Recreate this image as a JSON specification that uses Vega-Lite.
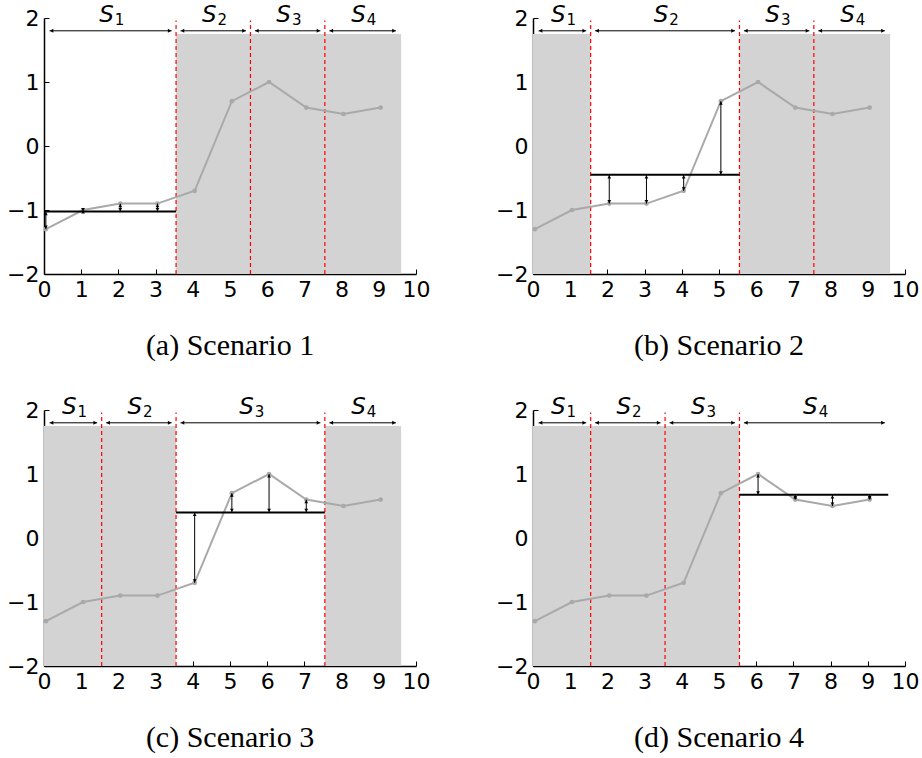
{
  "$schema": "https://vega.github.io/schema/vega-lite/v6.json",
  "padding": {"left": 6, "top": 4, "right": 5, "bottom": 0},
  "data": {"values": [
    {"cap":"(a) Scenario 1","t":"pt","x":0.05,"y":-1.3},
    {"cap":"(a) Scenario 1","t":"pt","x":1.05,"y":-1.0},
    {"cap":"(a) Scenario 1","t":"pt","x":2.05,"y":-0.9},
    {"cap":"(a) Scenario 1","t":"pt","x":3.05,"y":-0.9},
    {"cap":"(a) Scenario 1","t":"pt","x":4.05,"y":-0.7},
    {"cap":"(a) Scenario 1","t":"pt","x":5.05,"y":0.7},
    {"cap":"(a) Scenario 1","t":"pt","x":6.05,"y":1.0},
    {"cap":"(a) Scenario 1","t":"pt","x":7.05,"y":0.6},
    {"cap":"(a) Scenario 1","t":"pt","x":8.05,"y":0.5},
    {"cap":"(a) Scenario 1","t":"pt","x":9.05,"y":0.6},
    {"cap":"(b) Scenario 2","t":"pt","x":0.05,"y":-1.3},
    {"cap":"(b) Scenario 2","t":"pt","x":1.05,"y":-1.0},
    {"cap":"(b) Scenario 2","t":"pt","x":2.05,"y":-0.9},
    {"cap":"(b) Scenario 2","t":"pt","x":3.05,"y":-0.9},
    {"cap":"(b) Scenario 2","t":"pt","x":4.05,"y":-0.7},
    {"cap":"(b) Scenario 2","t":"pt","x":5.05,"y":0.7},
    {"cap":"(b) Scenario 2","t":"pt","x":6.05,"y":1.0},
    {"cap":"(b) Scenario 2","t":"pt","x":7.05,"y":0.6},
    {"cap":"(b) Scenario 2","t":"pt","x":8.05,"y":0.5},
    {"cap":"(b) Scenario 2","t":"pt","x":9.05,"y":0.6},
    {"cap":"(c) Scenario 3","t":"pt","x":0.05,"y":-1.3},
    {"cap":"(c) Scenario 3","t":"pt","x":1.05,"y":-1.0},
    {"cap":"(c) Scenario 3","t":"pt","x":2.05,"y":-0.9},
    {"cap":"(c) Scenario 3","t":"pt","x":3.05,"y":-0.9},
    {"cap":"(c) Scenario 3","t":"pt","x":4.05,"y":-0.7},
    {"cap":"(c) Scenario 3","t":"pt","x":5.05,"y":0.7},
    {"cap":"(c) Scenario 3","t":"pt","x":6.05,"y":1.0},
    {"cap":"(c) Scenario 3","t":"pt","x":7.05,"y":0.6},
    {"cap":"(c) Scenario 3","t":"pt","x":8.05,"y":0.5},
    {"cap":"(c) Scenario 3","t":"pt","x":9.05,"y":0.6},
    {"cap":"(d) Scenario 4","t":"pt","x":0.05,"y":-1.3},
    {"cap":"(d) Scenario 4","t":"pt","x":1.05,"y":-1.0},
    {"cap":"(d) Scenario 4","t":"pt","x":2.05,"y":-0.9},
    {"cap":"(d) Scenario 4","t":"pt","x":3.05,"y":-0.9},
    {"cap":"(d) Scenario 4","t":"pt","x":4.05,"y":-0.7},
    {"cap":"(d) Scenario 4","t":"pt","x":5.05,"y":0.7},
    {"cap":"(d) Scenario 4","t":"pt","x":6.05,"y":1.0},
    {"cap":"(d) Scenario 4","t":"pt","x":7.05,"y":0.6},
    {"cap":"(d) Scenario 4","t":"pt","x":8.05,"y":0.5},
    {"cap":"(d) Scenario 4","t":"pt","x":9.05,"y":0.6},

    {"cap":"(a) Scenario 1","t":"sh","x0":3.55,"x1":9.6},
    {"cap":"(b) Scenario 2","t":"sh","x0":0,"x1":1.55},
    {"cap":"(b) Scenario 2","t":"sh","x0":5.55,"x1":9.6},
    {"cap":"(c) Scenario 3","t":"sh","x0":0,"x1":3.55},
    {"cap":"(c) Scenario 3","t":"sh","x0":7.55,"x1":9.6},
    {"cap":"(d) Scenario 4","t":"sh","x0":0,"x1":5.55},

    {"cap":"(a) Scenario 1","t":"bd","x":3.55},
    {"cap":"(a) Scenario 1","t":"bd","x":5.55},
    {"cap":"(a) Scenario 1","t":"bd","x":7.55},
    {"cap":"(b) Scenario 2","t":"bd","x":1.55},
    {"cap":"(b) Scenario 2","t":"bd","x":5.55},
    {"cap":"(b) Scenario 2","t":"bd","x":7.55},
    {"cap":"(c) Scenario 3","t":"bd","x":1.55},
    {"cap":"(c) Scenario 3","t":"bd","x":3.55},
    {"cap":"(c) Scenario 3","t":"bd","x":7.55},
    {"cap":"(d) Scenario 4","t":"bd","x":1.55},
    {"cap":"(d) Scenario 4","t":"bd","x":3.55},
    {"cap":"(d) Scenario 4","t":"bd","x":5.55},

    {"cap":"(a) Scenario 1","t":"sp","x0":0.15,"x1":3.43,"mid":1.79,"lab":"1"},
    {"cap":"(a) Scenario 1","t":"sp","x0":3.67,"x1":5.43,"mid":4.55,"lab":"2"},
    {"cap":"(a) Scenario 1","t":"sp","x0":5.67,"x1":7.43,"mid":6.55,"lab":"3"},
    {"cap":"(a) Scenario 1","t":"sp","x0":7.67,"x1":9.46,"mid":8.565,"lab":"4"},
    {"cap":"(b) Scenario 2","t":"sp","x0":0.15,"x1":1.43,"mid":0.79,"lab":"1"},
    {"cap":"(b) Scenario 2","t":"sp","x0":1.67,"x1":5.43,"mid":3.55,"lab":"2"},
    {"cap":"(b) Scenario 2","t":"sp","x0":5.67,"x1":7.43,"mid":6.55,"lab":"3"},
    {"cap":"(b) Scenario 2","t":"sp","x0":7.67,"x1":9.46,"mid":8.565,"lab":"4"},
    {"cap":"(c) Scenario 3","t":"sp","x0":0.15,"x1":1.43,"mid":0.79,"lab":"1"},
    {"cap":"(c) Scenario 3","t":"sp","x0":1.67,"x1":3.43,"mid":2.55,"lab":"2"},
    {"cap":"(c) Scenario 3","t":"sp","x0":3.67,"x1":7.43,"mid":5.55,"lab":"3"},
    {"cap":"(c) Scenario 3","t":"sp","x0":7.67,"x1":9.46,"mid":8.565,"lab":"4"},
    {"cap":"(d) Scenario 4","t":"sp","x0":0.15,"x1":1.43,"mid":0.79,"lab":"1"},
    {"cap":"(d) Scenario 4","t":"sp","x0":1.67,"x1":3.43,"mid":2.55,"lab":"2"},
    {"cap":"(d) Scenario 4","t":"sp","x0":3.67,"x1":5.43,"mid":4.55,"lab":"3"},
    {"cap":"(d) Scenario 4","t":"sp","x0":5.67,"x1":9.46,"mid":7.565,"lab":"4"},

    {"cap":"(a) Scenario 1","t":"mn","x0":0,"x1":3.55,"y":-1.025},
    {"cap":"(b) Scenario 2","t":"mn","x0":1.55,"x1":5.55,"y":-0.45},
    {"cap":"(c) Scenario 3","t":"mn","x0":3.55,"x1":7.55,"y":0.4},
    {"cap":"(d) Scenario 4","t":"mn","x0":5.55,"x1":9.55,"y":0.675},

    {"cap":"(a) Scenario 1","t":"er","x":0.05,"lo":-1.3,"hi":-1.025},
    {"cap":"(a) Scenario 1","t":"er","x":1.05,"lo":-1.025,"hi":-1.0},
    {"cap":"(a) Scenario 1","t":"er","x":2.05,"lo":-1.025,"hi":-0.9},
    {"cap":"(a) Scenario 1","t":"er","x":3.05,"lo":-1.025,"hi":-0.9},
    {"cap":"(b) Scenario 2","t":"er","x":2.05,"lo":-0.9,"hi":-0.45},
    {"cap":"(b) Scenario 2","t":"er","x":3.05,"lo":-0.9,"hi":-0.45},
    {"cap":"(b) Scenario 2","t":"er","x":4.05,"lo":-0.7,"hi":-0.45},
    {"cap":"(b) Scenario 2","t":"er","x":5.05,"lo":-0.45,"hi":0.7},
    {"cap":"(c) Scenario 3","t":"er","x":4.05,"lo":-0.7,"hi":0.4},
    {"cap":"(c) Scenario 3","t":"er","x":5.05,"lo":0.4,"hi":0.7},
    {"cap":"(c) Scenario 3","t":"er","x":6.05,"lo":0.4,"hi":1.0},
    {"cap":"(c) Scenario 3","t":"er","x":7.05,"lo":0.4,"hi":0.6},
    {"cap":"(d) Scenario 4","t":"er","x":6.05,"lo":0.675,"hi":1.0},
    {"cap":"(d) Scenario 4","t":"er","x":7.05,"lo":0.6,"hi":0.675},
    {"cap":"(d) Scenario 4","t":"er","x":8.05,"lo":0.5,"hi":0.675},
    {"cap":"(d) Scenario 4","t":"er","x":9.05,"lo":0.6,"hi":0.675}
  ]},
  "facet": {"field": "cap", "type": "nominal", "title": null,
    "header": {"labelOrient": "bottom", "labelFont": "Liberation Serif", "labelFontSize": 30, "labelColor": "black", "labelPadding": 31}},
  "columns": 2,
  "bounds": "flush",
  "spacing": {"column": 117, "row": 136},
  "resolve": {"axis": {"x": "independent", "y": "independent"}},
  "spec": {
    "width": 372,
    "height": 256,
    "layer": [
      {
        "transform": [{"filter": "datum.t == 'sh'"}],
        "mark": {"type": "rect", "color": "#d3d3d3"},
        "encoding": {
          "x": {"field": "x0", "type": "quantitative", "title": null,
            "scale": {"domain": [0, 10], "nice": false, "zero": false},
            "axis": {"title": null, "values": [0,1,2,3,4,5,6,7,8,9,10], "format": "d"}},
          "x2": {"field": "x1"},
          "y": {"datum": -2, "type": "quantitative", "title": null,
            "scale": {"domain": [-2, 2], "nice": false, "zero": false},
            "axis": {"title": null, "values": [-2,-1,0,1,2], "format": "d"}},
          "y2": {"datum": 1.75}
        }
      },
      {
        "transform": [{"filter": "datum.t == 'bd'"}],
        "mark": {"type": "rule", "color": "red", "strokeWidth": 1.2, "strokeDash": [4, 3]},
        "encoding": {
          "x": {"field": "x", "type": "quantitative", "title": null, "axis": {"title": null, "values": [0,1,2,3,4,5,6,7,8,9,10], "format": "d"}},
          "y": {"datum": -2, "type": "quantitative", "title": null, "axis": {"title": null, "values": [-2,-1,0,1,2], "format": "d"}},
          "y2": {"datum": 1.96}
        }
      },
      {
        "transform": [{"filter": "datum.t == 'pt'"}],
        "mark": {"type": "line", "color": "#a9a9a9", "strokeWidth": 2},
        "encoding": {
          "x": {"field": "x", "type": "quantitative", "title": null, "axis": {"title": null, "values": [0,1,2,3,4,5,6,7,8,9,10], "format": "d"}},
          "y": {"field": "y", "type": "quantitative", "title": null, "axis": {"title": null, "values": [-2,-1,0,1,2], "format": "d"}}
        }
      },
      {
        "transform": [{"filter": "datum.t == 'pt'"}],
        "mark": {"type": "point", "filled": true, "color": "#a9a9a9", "size": 22, "opacity": 1},
        "encoding": {
          "x": {"field": "x", "type": "quantitative", "title": null, "axis": {"title": null, "values": [0,1,2,3,4,5,6,7,8,9,10], "format": "d"}},
          "y": {"field": "y", "type": "quantitative", "title": null, "axis": {"title": null, "values": [-2,-1,0,1,2], "format": "d"}}
        }
      },
      {
        "transform": [{"filter": "datum.t == 'mn'"}],
        "mark": {"type": "rule", "color": "black", "strokeWidth": 2},
        "encoding": {
          "x": {"field": "x0", "type": "quantitative", "title": null, "axis": {"title": null, "values": [0,1,2,3,4,5,6,7,8,9,10], "format": "d"}},
          "x2": {"field": "x1"},
          "y": {"field": "y", "type": "quantitative", "title": null, "axis": {"title": null, "values": [-2,-1,0,1,2], "format": "d"}}
        }
      },
      {
        "transform": [{"filter": "datum.t == 'er'"}],
        "mark": {"type": "rule", "color": "black", "strokeWidth": 1},
        "encoding": {
          "x": {"field": "x", "type": "quantitative", "title": null, "axis": {"title": null, "values": [0,1,2,3,4,5,6,7,8,9,10], "format": "d"}},
          "y": {"field": "lo", "type": "quantitative", "title": null, "axis": {"title": null, "values": [-2,-1,0,1,2], "format": "d"}},
          "y2": {"field": "hi"}
        }
      },
      {
        "transform": [{"filter": "datum.t == 'er'"}],
        "mark": {"type": "point", "shape": "triangle-up", "filled": true, "color": "black", "size": 14, "opacity": 1, "yOffset": 2},
        "encoding": {
          "x": {"field": "x", "type": "quantitative", "title": null, "axis": {"title": null, "values": [0,1,2,3,4,5,6,7,8,9,10], "format": "d"}},
          "y": {"field": "hi", "type": "quantitative", "title": null, "axis": {"title": null, "values": [-2,-1,0,1,2], "format": "d"}}
        }
      },
      {
        "transform": [{"filter": "datum.t == 'er'"}],
        "mark": {"type": "point", "shape": "triangle-down", "filled": true, "color": "black", "size": 14, "opacity": 1, "yOffset": -2},
        "encoding": {
          "x": {"field": "x", "type": "quantitative", "title": null, "axis": {"title": null, "values": [0,1,2,3,4,5,6,7,8,9,10], "format": "d"}},
          "y": {"field": "lo", "type": "quantitative", "title": null, "axis": {"title": null, "values": [-2,-1,0,1,2], "format": "d"}}
        }
      },
      {
        "transform": [{"filter": "datum.t == 'sp'"}],
        "mark": {"type": "rule", "color": "black", "strokeWidth": 1},
        "encoding": {
          "x": {"field": "x0", "type": "quantitative", "title": null, "axis": {"title": null, "values": [0,1,2,3,4,5,6,7,8,9,10], "format": "d"}},
          "x2": {"field": "x1"},
          "y": {"datum": 1.8, "type": "quantitative", "title": null, "axis": {"title": null, "values": [-2,-1,0,1,2], "format": "d"}}
        }
      },
      {
        "transform": [{"filter": "datum.t == 'sp'"}],
        "mark": {"type": "point", "shape": "triangle-left", "filled": true, "color": "black", "size": 16, "opacity": 1, "xOffset": 2},
        "encoding": {
          "x": {"field": "x0", "type": "quantitative", "title": null, "axis": {"title": null, "values": [0,1,2,3,4,5,6,7,8,9,10], "format": "d"}},
          "y": {"datum": 1.8, "type": "quantitative", "title": null, "axis": {"title": null, "values": [-2,-1,0,1,2], "format": "d"}}
        }
      },
      {
        "transform": [{"filter": "datum.t == 'sp'"}],
        "mark": {"type": "point", "shape": "triangle-right", "filled": true, "color": "black", "size": 16, "opacity": 1, "xOffset": -2},
        "encoding": {
          "x": {"field": "x1", "type": "quantitative", "title": null, "axis": {"title": null, "values": [0,1,2,3,4,5,6,7,8,9,10], "format": "d"}},
          "y": {"datum": 1.8, "type": "quantitative", "title": null, "axis": {"title": null, "values": [-2,-1,0,1,2], "format": "d"}}
        }
      },
      {
        "transform": [{"filter": "datum.t == 'sp'"}],
        "mark": {"type": "text", "text": "S", "font": "DejaVu Sans", "fontStyle": "italic", "fontSize": 23, "color": "black", "align": "center", "baseline": "alphabetic", "dx": -4},
        "encoding": {
          "x": {"field": "mid", "type": "quantitative", "title": null, "axis": {"title": null, "values": [0,1,2,3,4,5,6,7,8,9,10], "format": "d"}},
          "y": {"datum": 1.93, "type": "quantitative", "title": null, "axis": {"title": null, "values": [-2,-1,0,1,2], "format": "d"}}
        }
      },
      {
        "transform": [{"filter": "datum.t == 'sp'"}],
        "mark": {"type": "text", "font": "DejaVu Sans", "fontSize": 15, "color": "black", "align": "center", "baseline": "alphabetic", "dx": 9, "dy": 3},
        "encoding": {
          "x": {"field": "mid", "type": "quantitative", "title": null, "axis": {"title": null, "values": [0,1,2,3,4,5,6,7,8,9,10], "format": "d"}},
          "y": {"datum": 1.93, "type": "quantitative", "title": null, "axis": {"title": null, "values": [-2,-1,0,1,2], "format": "d"}},
          "text": {"field": "lab"}
        }
      }
    ]
  },
  "config": {
    "view": {"stroke": null},
    "axis": {"grid": false, "domainColor": "black", "domainWidth": 1.5, "tickColor": "black", "tickSize": -5, "tickWidth": 1,
      "labelFont": "DejaVu Sans", "labelFontSize": 22, "labelColor": "black", "labelPadding": 10,
      "labelFlush": false, "labelOverlap": false, "labelBound": false, "zindex": 1}
  }
}
